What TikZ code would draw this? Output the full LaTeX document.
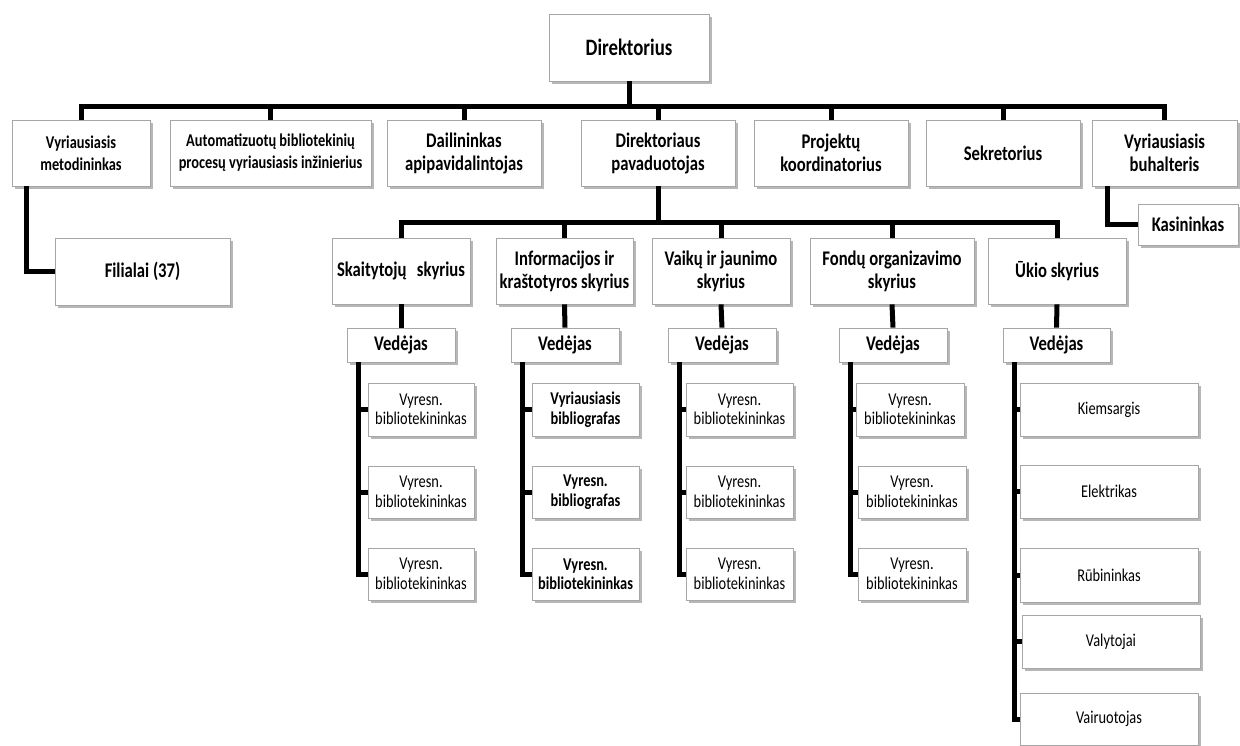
\documentclass[tikz,border=0pt]{standalone}
\usepackage{fontspec}
\setmainfont{Carlito}[FakeStretch=0.8]
\usetikzlibrary{shadows}
\begin{document}
\begin{tikzpicture}[x=1pt,y=-1pt,
  box/.style={draw=gray!70, line width=0.8pt, fill=white, inner sep=1pt, align=center,
    drop shadow={shadow xshift=3pt, shadow yshift=-3pt, opacity=0.4, fill=black!70}},
  conn/.style={line width=5pt, black, line join=miter},
  huge/.style={font=\bfseries\fontsize{23.5}{26}\selectfont},
  big/.style={font=\bfseries\fontsize{20.8}{23}\selectfont},
  mid/.style={font=\bfseries\fontsize{18}{22}\selectfont},
  sm/.style={font=\fontsize{18}{19.5}\selectfont},
  smb/.style={font=\bfseries\fontsize{18}{19.5}\selectfont},
]
\useasboundingbox (0,0) rectangle (1240,745);
\fill[white] (0,0) rectangle (1240,745);

% top
\node[box,huge,minimum width=160pt,minimum height=67pt] (dir) at (629,47.5) {Direktorius};

% row 1
\node[box,mid,minimum width=138pt,minimum height=66pt] (vm) at (81,153) {Vyriausiasis\\metodininkas};
\node[box,mid,minimum width=201pt,minimum height=66pt] (au) at (270.5,153) {Automatizuotų bibliotekinių\\procesų vyriausiasis inžinierius};
\node[box,big,minimum width=154pt,minimum height=66pt] (da) at (464,153) {Dailininkas\\apipavidalintojas};
\node[box,big,minimum width=154pt,minimum height=66pt] (dp) at (658,153) {Direktoriaus\\pavaduotojas};
\node[box,big,minimum width=154pt,minimum height=66pt] (pk) at (831,153) {Projektų\\koordinatorius};
\node[box,big,minimum width=154pt,minimum height=66pt] (se) at (1003,153) {Sekretorius};
\node[box,big,minimum width=145pt,minimum height=66pt] (bu) at (1164.5,153) {Vyriausiasis\\buhalteris};

\node[box,big,minimum width=175pt,minimum height=67pt] (fi) at (142.5,271.5) {Filialai (37)};
\node[box,big,minimum width=100pt,minimum height=41pt] (ka) at (1188,224.5) {Kasininkas};

% row 2
\node[box,big,minimum width=138pt,minimum height=66pt] (sk) at (401,271) {Skaitytojų\enspace skyrius};
\node[box,big,minimum width=137pt,minimum height=66pt] (in) at (564.5,271) {Informacijos ir\\kraštotyros skyrius};
\node[box,big,minimum width=138pt,minimum height=66pt] (va) at (721,271) {Vaikų ir jaunimo\\skyrius};
\node[box,big,minimum width=164pt,minimum height=66pt] (fo) at (892,271) {Fondų organizavimo\\skyrius};
\node[box,big,minimum width=138pt,minimum height=66pt] (uk) at (1057,271) {Ūkio skyrius};

% vedejai
\node[box,big,minimum width=108pt,minimum height=34pt] (v1) at (401,345) {Vedėjas};
\node[box,big,minimum width=108pt,minimum height=34pt] (v2) at (565,345) {Vedėjas};
\node[box,big,minimum width=108pt,minimum height=34pt] (v3) at (722,345) {Vedėjas};
\node[box,big,minimum width=108pt,minimum height=34pt] (v4) at (893,345) {Vedėjas};
\node[box,big,minimum width=107pt,minimum height=34pt] (v5) at (1056.5,345) {Vedėjas};

% column 1
\node[box,sm,minimum width=106pt,minimum height=53pt] (c11) at (421,409.5) {Vyresn.\\bibliotekininkas};
\node[box,sm,minimum width=106pt,minimum height=52pt] (c12) at (421,492) {Vyresn.\\bibliotekininkas};
\node[box,sm,minimum width=106pt,minimum height=52pt] (c13) at (421,574) {Vyresn.\\bibliotekininkas};
% column 2
\node[box,smb,minimum width=107pt,minimum height=53pt] (c21) at (585.5,409.5) {Vyriausiasis\\bibliografas};
\node[box,smb,minimum width=107pt,minimum height=52pt] (c22) at (585.5,492) {Vyresn.\\bibliografas};
\node[box,smb,minimum width=107pt,minimum height=52pt] (c23) at (585.5,574) {Vyresn.\\bibliotekininkas};
% column 3
\node[box,sm,minimum width=107pt,minimum height=53pt] (c31) at (739.5,409.5) {Vyresn.\\bibliotekininkas};
\node[box,sm,minimum width=107pt,minimum height=52pt] (c32) at (739.5,492) {Vyresn.\\bibliotekininkas};
\node[box,sm,minimum width=107pt,minimum height=52pt] (c33) at (739.5,574) {Vyresn.\\bibliotekininkas};
% column 4
\node[box,sm,minimum width=108pt,minimum height=53pt] (c41) at (910,409.5) {Vyresn.\\bibliotekininkas};
\node[box,sm,minimum width=108pt,minimum height=52pt] (c42) at (912,492) {Vyresn.\\bibliotekininkas};
\node[box,sm,minimum width=108pt,minimum height=52pt] (c43) at (912,574) {Vyresn.\\bibliotekininkas};
% column 5
\node[box,sm,minimum width=178pt,minimum height=53pt] (c51) at (1109,409.5) {Kiemsargis};
\node[box,sm,minimum width=178pt,minimum height=53pt] (c52) at (1109,491.5) {Elektrikas};
\node[box,sm,minimum width=178pt,minimum height=54pt] (c53) at (1109,575) {Rūbininkas};
\node[box,sm,minimum width=178pt,minimum height=53pt] (c54) at (1111,641.5) {Valytojai};
\node[box,sm,minimum width=178pt,minimum height=52pt] (c55) at (1109,719) {Vairuotojas};

% connectors: top bus
\coordinate (bus1) at (0,106);
\draw[conn] (dir.south) -- (dir.south |- bus1);
\draw[conn] (vm.north) -- (vm.north |- bus1) -- (bu.north |- bus1) -- (bu.north);
\foreach \n in {au,da,dp,pk,se} \draw[conn] (\n.north |- bus1) -- (\n.north);

% side branches
\coordinate (lvm) at ([xshift=15pt]vm.south west);
\draw[conn] (lvm) |- (fi.west);
\coordinate (lbu) at ([xshift=16pt]bu.south west);
\draw[conn] (lbu) |- (ka.west);

% second bus
\coordinate (bus2) at (0,222);
\draw[conn] (dp.south) -- (dp.south |- bus2);
\draw[conn] (sk.north) -- (sk.north |- bus2) -- (uk.north |- bus2) -- (uk.north);
\foreach \n in {in,va,fo} \draw[conn] (\n.north |- bus2) -- (\n.north);

% department -> vedejas
\draw[conn] (sk.south) -- (v1.north);
\draw[conn] (in.south) -- (v2.north);
\draw[conn] (va.south) -- (v3.north);
\draw[conn] (fo.south) -- (v4.north);
\draw[conn] (uk.south) -- (v5.north);

% vedejas -> staff
\foreach \v/\c in {1/1,2/2,3/3,4/4} {
  \coordinate (l\v) at ([xshift=11.5pt]v\v.south west);
  \draw[conn] (l\v) |- (c\c3.west);
  \draw[conn] (l\v |- c\c1.west) -- (c\c1.west);
  \draw[conn] (l\v |- c\c2.west) -- (c\c2.west);
}
\coordinate (l5) at ([xshift=12pt]v5.south west);
\draw[conn] (l5) |- (c55.west);
\foreach \k in {1,2,3,4} \draw[conn] (l5 |- c5\k.west) -- (c5\k.west);
\end{tikzpicture}
\end{document}
